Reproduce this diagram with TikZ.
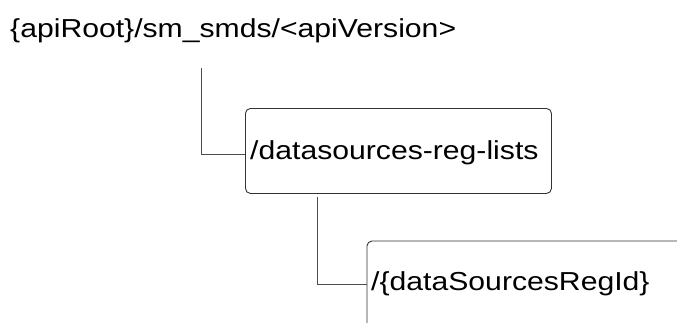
\documentclass[tikz,border=0pt]{standalone}
\usepackage{fontspec}
\setmainfont{Liberation Sans}[FakeStretch=1.16]
\begin{document}
\begin{tikzpicture}[x=1pt,y=-1pt]
\tikzset{
  lbl/.style={font=\fontsize{26}{30}\selectfont, inner sep=0pt, anchor=base west, text=black},
  conn/.style={draw=black!70, line width=0.9pt},
  resbox/.style={draw=black!80, line width=0.9pt, rounded corners=5pt}
}
\useasboundingbox (0,0) rectangle (677,322);
\clip (0,0) rectangle (677,322);
% root text
\node[lbl] (root) at (10,37.7) {\{apiRoot\}/sm\_smds/<apiVersion>};
% box 1
\node[resbox, anchor=north west, minimum width=306pt, minimum height=85pt, inner sep=0pt] (b1) at (245,108) {};
\node[lbl] (t1) at (250,159.5) {/datasources-reg-lists};
% box 2 (continues beyond the picture)
\draw[resbox] (700,241) -- (367,241) -- (367,340);
\node[lbl] (t2) at (371,290) {/\{dataSourcesRegId\}};
% connectors
\coordinate (c1) at (201,68);
\coordinate (c2) at (317,197);
\coordinate (e2) at (367,284);
\draw[conn] (c1) |- ([yshift=-3.5pt]b1.west);
\draw[conn] (c2) |- (e2);
\end{tikzpicture}
\end{document}
